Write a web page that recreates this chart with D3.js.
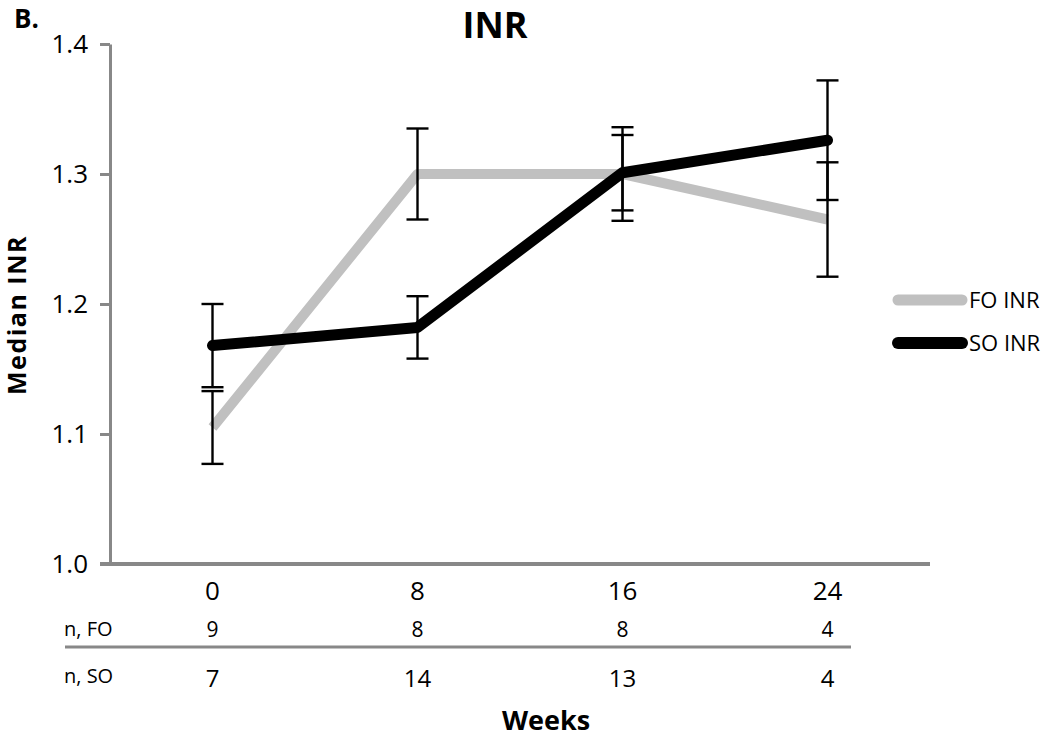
<!DOCTYPE html>
<html><head><meta charset="utf-8">
<script src="https://cdn.jsdelivr.net/npm/d3@7"></script>
<style>body{margin:0;background:#fff}svg{display:block}text{font-family:"Open Sans",sans-serif}</style>
</head><body>
<svg id="c" width="1050" height="737"></svg>
<script>
const weeks = ["0","8","16","24"];
const foINR = [1.105, 1.300, 1.300, 1.265];
const foErr = [0.028, 0.035, 0.036, 0.044];
const soINR = [1.168, 1.182, 1.301, 1.326];
const soErr = [0.032, 0.024, 0.029, 0.046];
const nFO = [9, 8, 8, 4];
const nSO = [7, 14, 13, 4];
const yTicks = [1.0, 1.1, 1.2, 1.3, 1.4];

const FONT = "'Open Sans',sans-serif";
const svg = d3.select("#c");
const m = {l:110, r:930, t:44, b:564};
const x = d3.scaleBand().domain(weeks).range([m.l, m.r]).padding(0);
const y = d3.scaleLinear().domain([1.0, 1.4]).range([m.b, m.t]);
const cx = d => x(d) + x.bandwidth()/2;

// title & panel label
svg.append("text").attr("x",14).attr("y",28).attr("font-size",26).attr("font-weight","bold").text("B.");
svg.append("text").attr("x",495).attr("y",38).attr("text-anchor","middle").attr("font-size",36).attr("font-weight","bold").text("INR");

// y axis
const ya = svg.append("g").attr("transform",`translate(${m.l},0)`)
  .call(d3.axisLeft(y).tickValues(yTicks).tickFormat(d3.format(".1f")).tickSize(10).tickPadding(12).tickSizeOuter(0));
ya.select(".domain").attr("stroke","#888").attr("stroke-width",3);
ya.selectAll(".tick line").attr("stroke","#888").attr("stroke-width",3);
ya.selectAll(".tick text").attr("font-size",26).attr("fill","#000").style("font-family",FONT);

// x axis
const xa = svg.append("g").attr("transform",`translate(0,${m.b})`)
  .call(d3.axisBottom(x).tickSize(0).tickPadding(18));
xa.select(".domain").attr("stroke","#888").attr("stroke-width",4).attr("d",`M${m.l-10},0H${m.r}`);
xa.selectAll(".tick text").attr("font-size",26).attr("fill","#000").style("font-family",FONT);

// y label
svg.append("text").attr("transform","translate(26,315) rotate(-90)").attr("text-anchor","middle")
  .attr("font-size",25).attr("font-weight","bold").attr("letter-spacing",1.5).text("Median INR");

// lines
const line = d3.line().x((d,i)=>cx(weeks[i])).y(d=>y(d));
svg.append("path").datum(foINR).attr("d",line).attr("fill","none").attr("stroke","#c0c0c0").attr("stroke-width",10).attr("stroke-linejoin","round");
svg.append("path").datum(soINR).attr("d",line).attr("fill","none").attr("stroke","#000").attr("stroke-width",11).attr("stroke-linejoin","round").attr("stroke-linecap","round");

// error bars
function errBars(vals, errs){
  const g = svg.append("g").attr("stroke","#000").attr("stroke-width",2.4);
  vals.forEach((v,i)=>{
    const X = cx(weeks[i]), y1 = y(v+errs[i]), y2 = y(v-errs[i]);
    g.append("line").attr("x1",X).attr("x2",X).attr("y1",y1).attr("y2",y2);
    g.append("line").attr("x1",X-11).attr("x2",X+11).attr("y1",y1).attr("y2",y1);
    g.append("line").attr("x1",X-11).attr("x2",X+11).attr("y1",y2).attr("y2",y2);
  });
}
errBars(foINR, foErr);
errBars(soINR, soErr);

// n table
svg.append("text").attr("x",64).attr("y",636).attr("font-size",20).text("n, FO");
svg.append("text").attr("x",64).attr("y",683).attr("font-size",20).text("n, SO");
svg.append("line").attr("x1",65).attr("x2",851).attr("y1",647).attr("y2",647).attr("stroke","#888").attr("stroke-width",3);
svg.selectAll(".nfo").data(nFO).join("text").attr("x",(d,i)=>cx(weeks[i])).attr("y",637)
  .attr("text-anchor","middle").attr("font-size",21).text(d=>d);
svg.selectAll(".nso").data(nSO).join("text").attr("x",(d,i)=>cx(weeks[i])).attr("y",687)
  .attr("text-anchor","middle").attr("font-size",24).text(d=>d);
svg.append("text").attr("x",546).attr("y",730).attr("text-anchor","middle").attr("font-size",27).attr("font-weight","bold").text("Weeks");

// legend
const leg = [{name:"FO INR", c:"#c0c0c0", w:11},{name:"SO INR", c:"#000", w:12}];
leg.forEach((d,i)=>{
  const Y = 300 + i*43;
  svg.append("line").attr("x1",898).attr("x2",962).attr("y1",Y).attr("y2",Y).attr("stroke",d.c).attr("stroke-width",d.w).attr("stroke-linecap","round");
  svg.append("text").attr("x",969).attr("y",Y+8).attr("font-size",22).text(d.name);
});
</script>
</body></html>
